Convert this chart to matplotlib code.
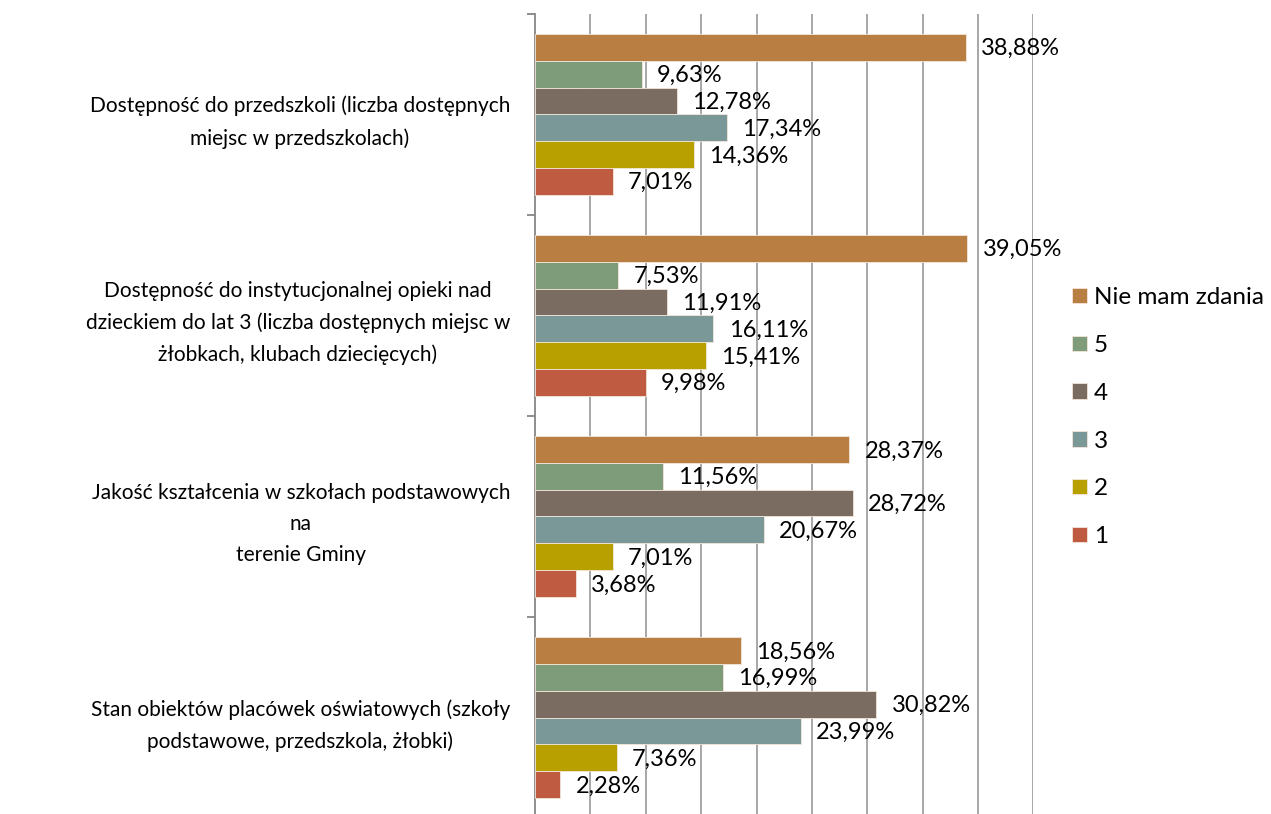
import matplotlib.pyplot as plt
import numpy as np

plt.rcParams['font.family'] = ['Lato', 'DejaVu Sans']

categories = [
    "Dostępność do przedszkoli (liczba dostępnych\nmiejsc w przedszkolach)",
    "Dostępność do instytucjonalnej opieki nad\ndzieckiem do lat 3 (liczba dostępnych miejsc w\nżłobkach, klubach dziecięcych)",
    "Jakość kształcenia w szkołach podstawowych\nna\nterenie Gminy",
    "Stan obiektów placówek oświatowych (szkoły\npodstawowe, przedszkola, żłobki)",
]
series_names = ["Nie mam zdania", "5", "4", "3", "2", "1"]
nie_mam_zdania = [38.88, 39.05, 28.37, 18.56]
ocena_5 = [9.63, 7.53, 11.56, 16.99]
ocena_4 = [12.78, 11.91, 28.72, 30.82]
ocena_3 = [17.34, 16.11, 20.67, 23.99]
ocena_2 = [14.36, 15.41, 7.01, 7.36]
ocena_1 = [7.01, 9.98, 3.68, 2.28]
values = [nie_mam_zdania, ocena_5, ocena_4, ocena_3, ocena_2, ocena_1]
colors = ["#B97F42", "#7E9C7A", "#7A6C60", "#7A9898", "#B7A000", "#BE5B41"]

fig = plt.figure(figsize=(12.71, 8.14), dpi=100)
ax = fig.add_axes([0.421, -0.005, 0.392, 0.988])

n = len(series_names)
h = 0.8 / n
y = np.arange(len(categories))
for i, (name, vals, c) in enumerate(zip(series_names, values, colors)):
    pos = y - 0.4 + h * (i + 0.5)
    bars = ax.barh(pos, vals, height=h, color=c, edgecolor='#F2E6DA',
                   linewidth=0.6, label=name, zorder=3)
    for b, v in zip(bars, vals):
        ax.annotate(f"{v:.2f}%".replace('.', ','),
                    (b.get_width(), b.get_y() + b.get_height() / 2),
                    xytext=(11, -1), textcoords='offset points',
                    ha='left', va='center', fontsize=17, zorder=4)

ax.set_xlim(0, 45)
ax.set_ylim(3.5, -0.5)
ax.set_xticks(np.arange(5, 46, 5))
ax.xaxis.grid(True, color='#A0A0A0', linewidth=1.3, zorder=0)
ax.tick_params(axis='x', length=0, labelbottom=False)

ax.set_yticks(y)
ax.set_yticklabels(categories, fontsize=15, multialignment='center',
                   linespacing=1.7)
ax.tick_params(axis='y', which='major', length=0, pad=18)
ax.set_yticks(np.arange(-0.5, 4, 1), minor=True)
ax.tick_params(axis='y', which='minor', length=6, width=1.3,
               color='#868686', direction='out')

for s in ['top', 'right', 'bottom']:
    ax.spines[s].set_visible(False)
ax.spines['left'].set_color('#868686')
ax.spines['left'].set_linewidth(1.3)

fig.legend(loc='upper left', bbox_to_anchor=(0.836, 0.659), frameon=False,
           fontsize=17.5, handlelength=0.6, handleheight=0.6,
           handletextpad=0.3, labelspacing=1.1, borderaxespad=0)

fig.savefig('out.png', dpi=100)
